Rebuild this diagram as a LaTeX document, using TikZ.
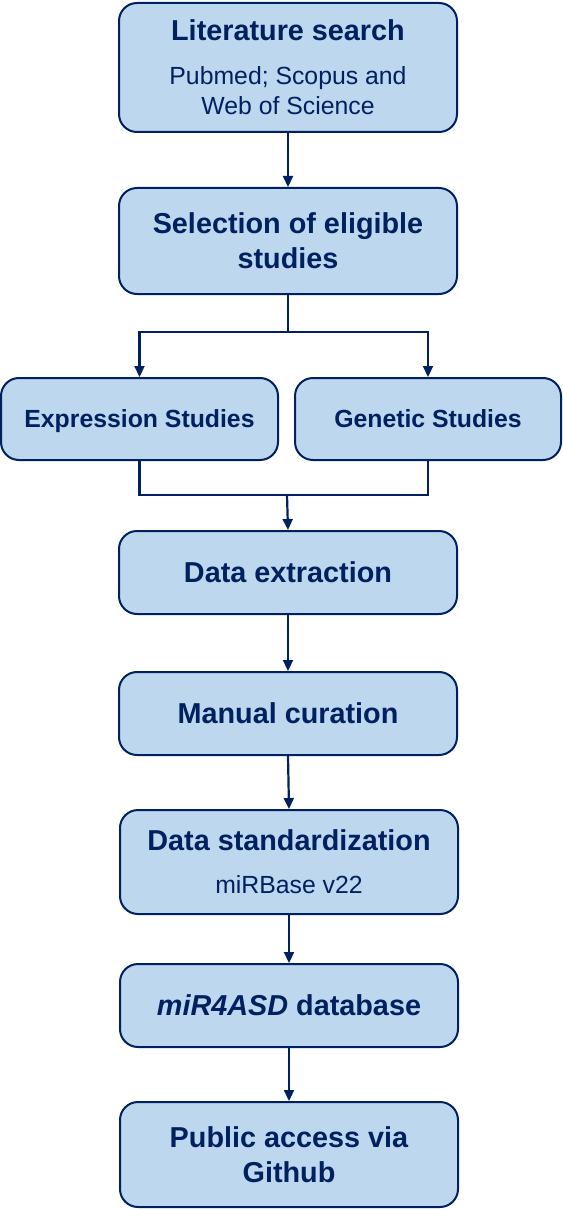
\documentclass[tikz,border=0pt]{standalone}
\usepackage{fontspec}
\setmainfont{Liberation Sans}
\usetikzlibrary{arrows.meta}
\definecolor{navy}{HTML}{002060}
\definecolor{boxfill}{HTML}{BDD7EE}
\newcommand{\ttl}{\fontsize{28.8}{35}\selectfont\bfseries}
\newcommand{\sml}{\fontsize{24.8}{29}\selectfont\mdseries}
\newcommand{\smb}{\fontsize{24.8}{29}\selectfont\bfseries}
\begin{document}
\begin{tikzpicture}[x=1pt,y=-1pt,
  box/.style={draw=navy, line width=2pt, fill=boxfill, rounded corners=18pt,
    inner sep=0pt, align=center, text=navy, minimum width=338pt, font=\ttl},
  link/.style={draw=navy, line width=2.2pt},
  arr/.style={link, -{Triangle[length=11pt,width=10pt]}}]
\useasboundingbox (0,0) rectangle (562,1209);
\node[box, minimum height=129pt] (lit) at (288,67.5)
  {\ttl Literature search\\[9pt]\sml Pubmed; Scopus and\\[-5pt]\sml Web of Science};
\node[box, minimum height=106pt] (sel) at (288,241)
  {\ttl Selection of eligible\\\ttl studies};
\node[box, minimum width=277pt, minimum height=82pt, font=\smb, text depth=0pt] (expr) at (139.5,419)
  {Expression Studies};
\node[box, minimum width=266pt, minimum height=82pt, font=\smb, text depth=0pt] (gen) at (428,419)
  {Genetic Studies};
\node[box, minimum height=83pt] (ext) at (288,572.5)
  {Data extraction};
\node[box, minimum height=83pt] (cur) at (288,713.5)
  {Manual curation};
\node[box, minimum height=104pt] (std) at (289,862)
  {\ttl Data standardization\\[8pt]\sml miRBase v22};
\node[box, minimum height=83pt] (db) at (289,1005.5)
  {\textit{miR4ASD} database};
\node[box, minimum height=105pt] (pub) at (289,1154.5)
  {\ttl Public access via\\\ttl Github};
\coordinate (split) at (288,332);
\coordinate (merge) at (287,495);
\draw[arr] (lit.south) -- (sel.north);
\draw[link] (sel.south) -- (split);
\draw[arr] (split) -| (expr.north);
\draw[arr] (split) -| (gen.north);
\draw[link] (expr.south) |- (merge) -| (gen.south);
\draw[arr] (merge) -- (ext.north);
\draw[arr] (ext.south) -- (cur.north);
\draw[arr] (cur.south) -- (std.north);
\draw[arr] (std.south) -- (db.north);
\draw[arr] (db.south) -- (pub.north);
\end{tikzpicture}
\end{document}
